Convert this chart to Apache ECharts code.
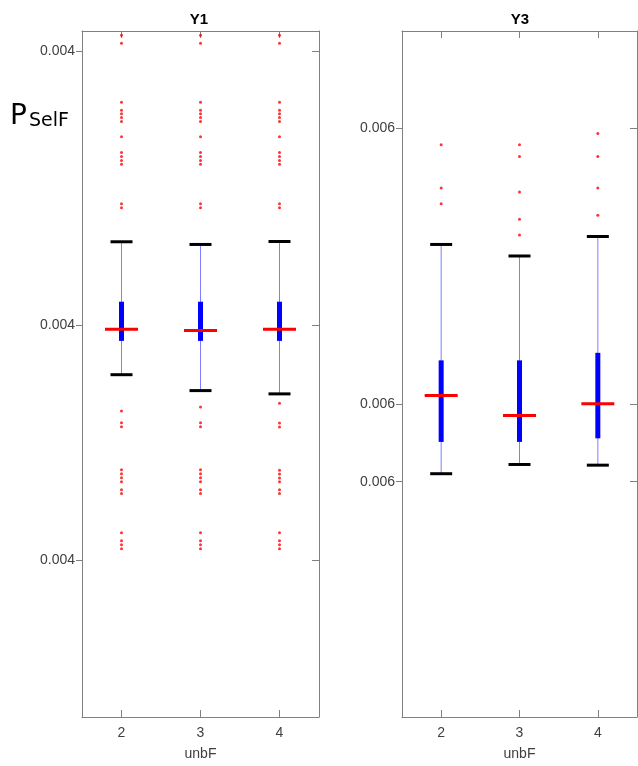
<!DOCTYPE html>
<html>
<head>
<meta charset="utf-8">
<script src="https://cdn.jsdelivr.net/npm/echarts@6/dist/echarts.min.js"></script>
<style>
html,body{margin:0;padding:0;background:#fff;}
#chart{width:638px;height:766px;}
</style>
</head>
<body>
<div id="chart"></div>
<script>
// ---- data ----
const categories = ['2', '3', '4'];

// Y1 panel: [lowerWhisker, q1, median, q3, upperWhisker] per category
const y1Lower  = [0.0039503, 0.0039343, 0.0039310];
const y1Q1     = [0.0039843, 0.0039843, 0.0039843];
const y1Median = [0.0039960, 0.0039947, 0.0039960];
const y1Q3     = [0.0040237, 0.0040237, 0.0040237];
const y1Upper  = [0.0040840, 0.0040813, 0.0040843];
const y1Outliers2 = [0.0042917, 0.0042837, 0.0042243, 0.0042163, 0.0042127, 0.0042090, 0.0042050, 0.0041897,
  0.0041737, 0.0041697, 0.0041657, 0.0041620, 0.0041223, 0.0041183,
  0.0039137, 0.0039020, 0.0038980, 0.0038547, 0.0038507, 0.0038467, 0.0038427, 0.0038347, 0.0038307,
  0.0037913, 0.0037833, 0.0037793, 0.0037753];
const y1Outliers3 = [0.0042917, 0.0042837, 0.0042243, 0.0042163, 0.0042127, 0.0042090, 0.0042050, 0.0041897,
  0.0041737, 0.0041697, 0.0041657, 0.0041620, 0.0041223, 0.0041183,
  0.0039177, 0.0039020, 0.0038980, 0.0038547, 0.0038507, 0.0038467, 0.0038427, 0.0038347, 0.0038307,
  0.0037913, 0.0037833, 0.0037793, 0.0037753];
const y1Outliers4 = [0.0042917, 0.0042837, 0.0042243, 0.0042163, 0.0042127, 0.0042090, 0.0042050, 0.0041897,
  0.0041737, 0.0041697, 0.0041657, 0.0041620, 0.0041223, 0.0041183,
  0.0039217, 0.0039017, 0.0038977, 0.0038543, 0.0038503, 0.0038463, 0.0038427, 0.0038347, 0.0038307,
  0.0037913, 0.0037833, 0.0037793, 0.0037753];
const y1Min = 0.003606, y1Max = 0.004296;
const y1Ticks = [0.003764, 0.004000, 0.004276];

// Y3 panel
const y3Lower  = [0.0059297, 0.0059390, 0.0059383];
const y3Q1     = [0.0059617, 0.0059617, 0.0059653];
const y3Median = [0.0060083, 0.0059883, 0.0060000];
const y3Q3     = [0.0060437, 0.0060437, 0.0060513];
const y3Upper  = [0.0061603, 0.0061487, 0.0061683];
const y3Outliers2 = [0.0062607, 0.0062170, 0.0062013];
const y3Outliers3 = [0.0062607, 0.0062487, 0.0062130, 0.0061857, 0.0061697];
const y3Outliers4 = [0.0062720, 0.0062487, 0.0062170, 0.0061897];
const y3Min = 0.005685, y3Max = 0.006375;
const y3Ticks = [0.0059217, 0.006000, 0.006277];

// ---- build ----
function boxRows(lo, q1, med, q3, hi) {
  return categories.map((c, i) => [i, lo[i], q1[i], med[i], q3[i], hi[i]]);
}
function outlierRows(lists) {
  const rows = [];
  lists.forEach((arr, i) => arr.forEach(v => rows.push([i, v])));
  return rows;
}

function renderBox(params, api) {
  const x = api.value(0);
  const pLo = api.coord([x, api.value(1)]);
  const pQ1 = api.coord([x, api.value(2)]);
  const pMed = api.coord([x, api.value(3)]);
  const pQ3 = api.coord([x, api.value(4)]);
  const pHi = api.coord([x, api.value(5)]);
  const cx = pLo[0];
  const boxW = 5, medW = 33, capW = 22;
  return {
    type: 'group',
    children: [
      {type: 'line', shape: {x1: cx, y1: pHi[1], x2: cx, y2: pLo[1]},
        style: {stroke: 'rgba(40,40,255,0.6)', lineWidth: 1}},
      {type: 'rect', shape: {x: cx - boxW / 2, y: pQ3[1], width: boxW, height: pQ1[1] - pQ3[1]},
        style: {fill: '#0000ff'}},
      {type: 'line', shape: {x1: cx - medW / 2, y1: pMed[1], x2: cx + medW / 2, y2: pMed[1]},
        style: {stroke: '#ff0000', lineWidth: 3}},
      {type: 'line', shape: {x1: cx - capW / 2, y1: pHi[1], x2: cx + capW / 2, y2: pHi[1]},
        style: {stroke: '#000000', lineWidth: 3}},
      {type: 'line', shape: {x1: cx - capW / 2, y1: pLo[1], x2: cx + capW / 2, y2: pLo[1]},
        style: {stroke: '#000000', lineWidth: 3}}
    ]
  };
}

const axisGrey = '#808080';
const labelGrey = '#404040';
const fontFam = '"Liberation Sans", Arial, sans-serif';

function xBottom(gridIndex) {
  return {
    type: 'category', gridIndex, data: categories, position: 'bottom', boundaryGap: true,
    name: 'unbF', nameLocation: 'middle', nameGap: 30,
    nameTextStyle: {fontSize: 14, color: labelGrey, fontFamily: fontFam},
    axisLine: {show: true, lineStyle: {color: axisGrey, width: 1}},
    axisTick: {show: true, inside: true, length: 7, alignWithLabel: true, lineStyle: {color: axisGrey}},
    axisLabel: {fontSize: 14, color: labelGrey, margin: 9, fontFamily: fontFam},
    splitLine: {show: false}
  };
}
function xTop(gridIndex) {
  return {
    type: 'category', gridIndex, data: categories, position: 'top', boundaryGap: true,
    axisLine: {show: true, lineStyle: {color: axisGrey, width: 1}},
    axisTick: {show: true, inside: true, length: 7, alignWithLabel: true, lineStyle: {color: axisGrey}},
    axisLabel: {show: false},
    splitLine: {show: false}
  };
}
function yLeft(gridIndex, min, max, ticks) {
  return {
    type: 'value', gridIndex, min, max, position: 'left',
    axisLine: {show: true, lineStyle: {color: axisGrey, width: 1}},
    axisTick: {show: true, inside: false, length: 6, customValues: ticks, lineStyle: {color: axisGrey}},
    axisLabel: {show: true, customValues: ticks, fontSize: 14, color: labelGrey, margin: 7,
      fontFamily: fontFam, formatter: v => Number(v).toFixed(3)},
    splitLine: {show: false}
  };
}
function yRight(gridIndex, min, max, ticks) {
  return {
    type: 'value', gridIndex, min, max, position: 'right',
    axisLine: {show: true, lineStyle: {color: axisGrey, width: 1}},
    axisTick: {show: true, inside: true, length: 7, customValues: ticks, lineStyle: {color: axisGrey}},
    axisLabel: {show: false},
    splitLine: {show: false}
  };
}

const chart = echarts.init(document.getElementById('chart'), null, {renderer: 'canvas'});
chart.setOption({
  animation: false,
  backgroundColor: '#ffffff',
  grid: [
    {left: 82, top: 31, width: 237, height: 690, containLabel: false},
    {left: 402, top: 31, width: 235, height: 690, containLabel: false}
  ],
  xAxis: [xBottom(0), xTop(0), xBottom(1), xTop(1)],
  yAxis: [
    yLeft(0, y1Min, y1Max, y1Ticks), yRight(0, y1Min, y1Max, y1Ticks),
    yLeft(1, y3Min, y3Max, y3Ticks), yRight(1, y3Min, y3Max, y3Ticks)
  ],
  graphic: [
    {type: 'text', style: {text: 'Y1', x: 199, y: 20, align: 'center', verticalAlign: 'middle',
      font: 'bold 15px "Liberation Sans", Arial, sans-serif', fill: '#000'}},
    {type: 'text', style: {text: 'Y3', x: 520, y: 20, align: 'center', verticalAlign: 'middle',
      font: 'bold 15px "Liberation Sans", Arial, sans-serif', fill: '#000'}},
    {type: 'text', style: {text: 'P', x: 10, y: 131, align: 'left', verticalAlign: 'bottom',
      font: '28px "DejaVu Sans", sans-serif', fill: '#000'}},
    {type: 'text', style: {text: 'SelF', x: 29, y: 131, align: 'left', verticalAlign: 'bottom',
      font: '19px "DejaVu Sans", sans-serif', fill: '#000'}}
  ],
  series: [
    {type: 'scatter', xAxisIndex: 0, yAxisIndex: 0, symbol: 'circle', symbolSize: 3,
      itemStyle: {color: '#ff0000'}, data: outlierRows([y1Outliers2, y1Outliers3, y1Outliers4]), z: 3},
    {type: 'custom', xAxisIndex: 0, yAxisIndex: 0, renderItem: renderBox,
      encode: {x: 0, y: [1, 2, 3, 4, 5]}, data: boxRows(y1Lower, y1Q1, y1Median, y1Q3, y1Upper), z: 4},
    {type: 'scatter', xAxisIndex: 2, yAxisIndex: 2, symbol: 'circle', symbolSize: 3,
      itemStyle: {color: '#ff0000'}, data: outlierRows([y3Outliers2, y3Outliers3, y3Outliers4]), z: 3},
    {type: 'custom', xAxisIndex: 2, yAxisIndex: 2, renderItem: renderBox,
      encode: {x: 0, y: [1, 2, 3, 4, 5]}, data: boxRows(y3Lower, y3Q1, y3Median, y3Q3, y3Upper), z: 4}
  ]
});
</script>
</body>
</html>
